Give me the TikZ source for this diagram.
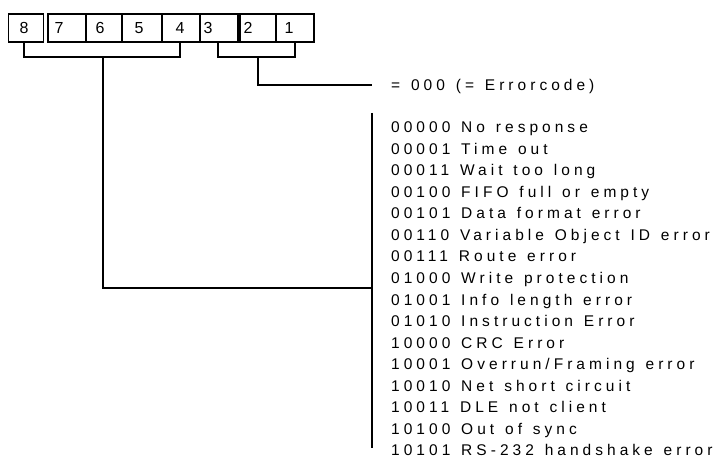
\documentclass[tikz,border=0pt]{standalone}
\usepackage{fontspec}
\setmainfont{Liberation Sans}
\newfontfamily\listfont{Liberation Sans}[LetterSpace=26,WordSpace=1.3]
\begin{document}
\begin{tikzpicture}[x=1pt,y=-1pt,
  bitcell/.style={draw,line width=1.6pt,inner sep=0pt,minimum height=28.3pt},
  bitnum/.style={inner sep=0pt,font=\fontsize{16}{18}\selectfont},
  wire/.style={line width=1.9pt},
  codeline/.style={anchor=base west,inner sep=0pt,font=\fontsize{15.5}{18}\listfont}]
\useasboundingbox (0,0) rectangle (723,462);

% bit cells, 8 down to 1
\node[bitcell,minimum width=35pt]   (b8) at (25.8,28.15) {};
\node[bitcell,minimum width=38.3pt] (b7) at (66.85,28.15) {};
\node[bitcell,minimum width=36pt]   (b6) at (104,28.15) {};
\node[bitcell,minimum width=40pt]   (b5) at (142,28.15) {};
\node[bitcell,minimum width=37.5pt] (b4) at (180.75,28.15) {};
\node[bitcell,minimum width=38pt]   (b3) at (219,28.15) {};
\node[bitcell,minimum width=36pt]   (b2) at (258,28.15) {};
\node[bitcell,minimum width=38pt]   (b1) at (295,28.15) {};

\node[bitnum] (n8) at (24,28.3) {8};
\node[bitnum] (n7) at (59,28.3) {7};
\node[bitnum] (n6) at (100,28.3) {6};
\node[bitnum] (n5) at (139,28.3) {5};
\node[bitnum] (n4) at (180,28.3) {4};
\node[bitnum] (n3) at (208,28.3) {3};
\node[bitnum] (n2) at (248,28.3) {2};
\node[bitnum] (n1) at (289,28.3) {1};

% bracket over bits 8..4 and its lead to the error list
\coordinate (lstem) at (103,56.7);
\coordinate (lcorner) at (103,288);
\coordinate (listtop) at (372,113);
\coordinate (listbot) at (372,448);
\draw[wire] (24,42.3) -- (24,56.7) -- (180,56.7) -- (180,42.3);
\draw[wire] (lstem) -- (lcorner) -- (lcorner -| listtop);
\draw[wire] (listtop) -- (listbot);

% bracket over bits 3..1 and its lead to the error code note
\coordinate (rstem) at (258,56.7);
\coordinate (rcorner) at (258,85);
\coordinate (rend) at (372,85);
\draw[wire] (218,42.3) -- (218,56.7) -- (295,56.7) -- (295,42.3);
\draw[wire] (rstem) -- (rcorner) -- (rend);

\node[codeline] (ecode) at (391,90.5) {= 000 (= Errorcode)};

% error list
\foreach \txt [count=\i from 0] in {
  00000 No response,
  00001 Time out,
  00011 Wait too long,
  00100 FIFO full or empty,
  00101 Data format error,
  00110 Variable Object ID error,
  00111 Route error,
  01000 Write protection,
  01001 Info length error,
  01010 Instruction Error,
  10000 CRC Error,
  10001 Overrun/Framing error,
  10010 Net short circuit,
  10011 DLE not client,
  10100 Out of sync,
  10101 RS-232 handshake error}
  \node[codeline] (e\i) at (391,{132.7+21.55*\i}) {\txt};
\end{tikzpicture}
\end{document}
